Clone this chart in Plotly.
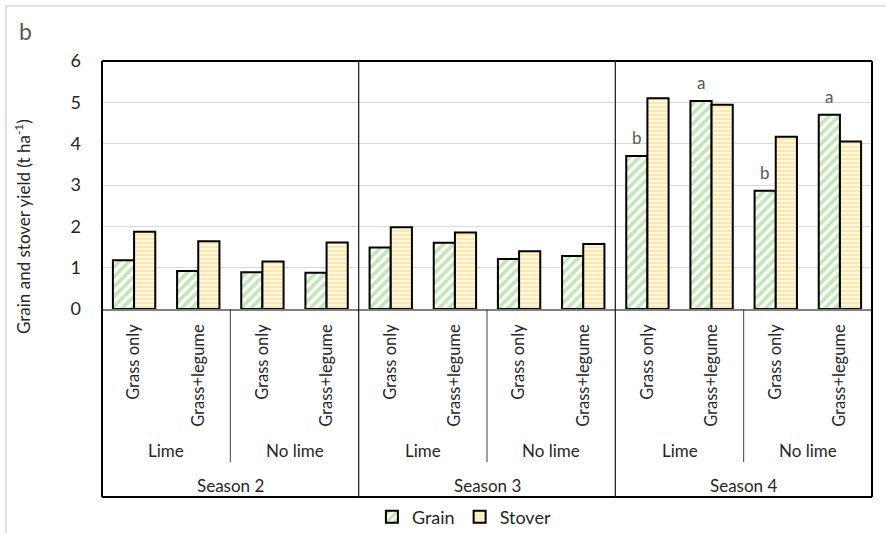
import plotly.graph_objects as go

# Treatment layout: season > liming > pasture mix
seasons = ["Season 2", "Season 3", "Season 4"]
liming = ["Lime", "No lime"]
mixes = ["Grass only", "Grass+legume"]

# Yields (t/ha), ordered season -> liming -> mix
grain = [1.18, 0.92, 0.89, 0.88,
         1.49, 1.60, 1.21, 1.28,
         3.70, 5.03, 2.86, 4.70]
stover = [1.87, 1.64, 1.15, 1.61,
          1.98, 1.85, 1.40, 1.57,
          5.10, 4.94, 4.17, 4.05]
grain_letters = ["", "", "", "",
                 "", "", "", "",
                 "b", "a", "b", "a"]

n_groups = len(seasons) * len(liming) * len(mixes)
xpos = list(range(n_groups))
tick_text = [mixes[i % len(mixes)] for i in xpos]

FONT = "Lato, 'Open Sans', sans-serif"
TXT = "#262626"
GREEN = "#8ccb74"
YELLOW = "#ffd052"

fig = go.Figure()
fig.add_bar(
    x=xpos, y=grain, name="Grain",
    marker=dict(color="white", line=dict(color="black", width=2),
                pattern=dict(shape="/", fgcolor=GREEN, bgcolor="white",
                             size=7, solidity=0.55, fillmode="overlay")),
)
fig.add_bar(
    x=xpos, y=stover, name="Stover",
    marker=dict(color="white", line=dict(color="black", width=2),
                pattern=dict(shape="-", fgcolor=YELLOW, bgcolor="white",
                             size=4, solidity=0.65, fillmode="overlay")),
)

bargap = 0.34
bar_w = (1 - bargap) / 2

# significance letters above grain bars
for i, (v, lab) in enumerate(zip(grain, grain_letters)):
    if lab:
        fig.add_annotation(x=i - bar_w / 2, y=v, text=lab, showarrow=False,
                           yanchor="bottom", yshift=6,
                           font=dict(size=17, color="#595959", family=FONT))

# frame and category separators below the axis
PW, PH = 770, 248
bottom = -188 / PH
lime_bottom = -153 / PH
black = dict(color="black", width=2)
shapes = [
    dict(type="line", xref="paper", yref="paper", x0=0, x1=1, y0=1, y1=1, line=black),
    dict(type="line", xref="paper", yref="paper", x0=0, x1=0, y0=1, y1=bottom, line=black),
    dict(type="line", xref="paper", yref="paper", x0=1, x1=1, y0=1, y1=bottom, line=black),
    dict(type="line", xref="paper", yref="paper", x0=0, x1=1, y0=bottom, y1=bottom, line=black),
]
per_season = len(liming) * len(mixes)
for s in range(1, len(seasons)):
    xp = s * per_season / n_groups
    shapes.append(dict(type="line", xref="paper", yref="paper", x0=xp, x1=xp,
                       y0=1, y1=bottom, line=dict(color="#262626", width=1.3)))
for s in range(len(seasons)):
    xp = (s * per_season + len(mixes)) / n_groups
    shapes.append(dict(type="line", xref="paper", yref="paper", x0=xp, x1=xp,
                       y0=0, y1=lime_bottom, line=dict(color="#404040", width=1)))
# light outer border of the figure
shapes.append(dict(type="line", xref="paper", yref="paper",
                   x0=-96 / PW, x1=884 / PW, y0=1 + 55 / PH, y1=1 + 55 / PH,
                   line=dict(color="#d9d9d9", width=1.5)))
shapes.append(dict(type="line", xref="paper", yref="paper",
                   x0=-96 / PW, x1=-96 / PW, y0=1 + 55 / PH, y1=-224 / PH,
                   line=dict(color="#d9d9d9", width=1.5)))
fig.update_layout(shapes=shapes)

# liming and season labels
for s, season in enumerate(seasons):
    fig.add_annotation(x=s * per_season + (per_season - 1) / 2, xref="x",
                       y=-176 / PH, yref="paper", text=season, showarrow=False,
                       yanchor="middle",
                       font=dict(size=17, color=TXT, family=FONT))
    for l, lime in enumerate(liming):
        fig.add_annotation(x=s * per_season + l * len(mixes) + (len(mixes) - 1) / 2,
                           xref="x", y=-141 / PH, yref="paper", text=lime,
                           yanchor="middle", showarrow=False,
                           font=dict(size=17, color=TXT, family=FONT))

# y-axis title
fig.add_annotation(x=-80 / PW, xref="paper", xanchor="center",
                   y=82 / PH, yref="paper", yanchor="middle",
                   text="Grain and stover yield (t ha<sup>-1</sup>)",
                   textangle=-90, showarrow=False,
                   font=dict(size=17, color=TXT, family=FONT))

# panel letter
fig.add_annotation(x=-85 / PW, xref="paper", xanchor="left",
                   y=1 + 30 / PH, yref="paper", yanchor="middle",
                   text="b", showarrow=False,
                   font=dict(size=23, color="#595959", family=FONT))

fig.update_layout(
    width=886, height=533,
    margin=dict(l=102, r=14, t=61, b=224, autoexpand=False),
    paper_bgcolor="white", plot_bgcolor="white",
    barmode="group", bargap=bargap, bargroupgap=0,
    font=dict(family=FONT, color=TXT, size=16),
    xaxis=dict(range=[-0.5, n_groups - 0.5], tickmode="array", tickvals=xpos,
               ticktext=tick_text, tickangle=-90, showgrid=False,
               showline=True, linecolor="#808080", linewidth=1.5,
               ticks="", zeroline=False, automargin=False,
               ticklabelstandoff=7,
               tickfont=dict(size=16.5, color=TXT, family=FONT)),
    yaxis=dict(range=[0, 6], dtick=1, showgrid=True, gridcolor="#d9d9d9",
               gridwidth=1, zeroline=False, showline=False, ticks="",
               automargin=False, ticklabelstandoff=20,
               tickfont=dict(size=18, color=TXT, family=FONT)),
    legend=dict(orientation="h", x=0.47, xanchor="center", y=-208 / PH,
                yanchor="middle", font=dict(size=18, color=TXT, family=FONT),
                bgcolor="rgba(0,0,0,0)",
                itemwidth=30, tracegroupgap=0),
    showlegend=True,
)

fig.write_html("out.html")
